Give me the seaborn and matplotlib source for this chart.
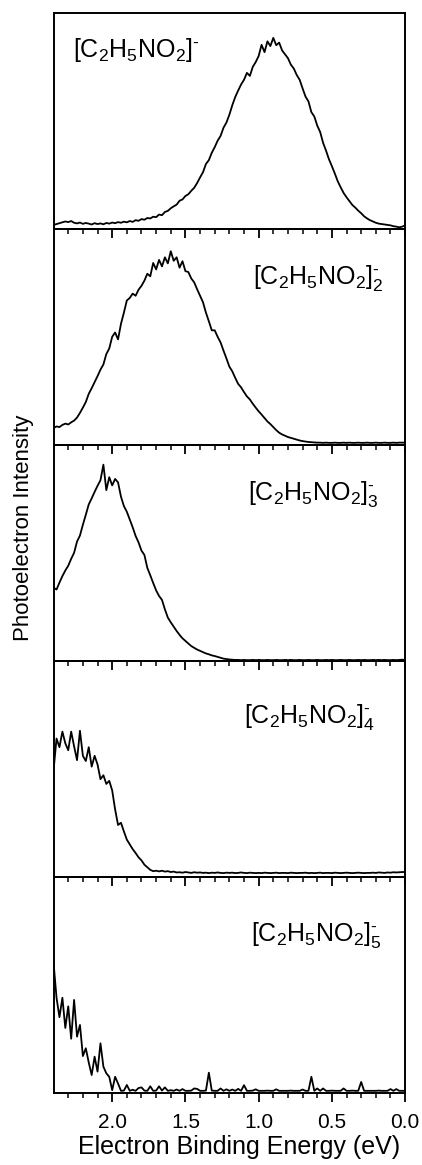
import numpy as np
import pandas as pd
import matplotlib
matplotlib.use('Agg')
import matplotlib.pyplot as plt
import seaborn as sns

# energy grid of the spectra (eV), 0.02 eV steps from 2.40 down to 0.00
energy = np.round(np.linspace(2.40, 0.00, 121), 2)

# intensities, as a fraction of each panel height
monomer = [
    0.018, 0.022, 0.026, 0.030, 0.034, 0.031, 0.036, 0.028, 0.025, 0.029,
    0.023, 0.027, 0.024, 0.020, 0.026, 0.022, 0.025, 0.021, 0.027, 0.024,
    0.029, 0.026, 0.031, 0.028, 0.033, 0.030, 0.036, 0.032, 0.040, 0.037,
    0.045, 0.042, 0.050, 0.048, 0.056, 0.054, 0.066, 0.063, 0.078, 0.083,
    0.095, 0.104, 0.112, 0.130, 0.136, 0.152, 0.160, 0.176, 0.190, 0.212,
    0.238, 0.262, 0.300, 0.318, 0.352, 0.378, 0.408, 0.430, 0.468, 0.492,
    0.528, 0.572, 0.610, 0.640, 0.668, 0.690, 0.722, 0.708, 0.750, 0.772,
    0.800, 0.852, 0.818, 0.868, 0.846, 0.884, 0.850, 0.862, 0.826, 0.808,
    0.790, 0.760, 0.742, 0.712, 0.690, 0.650, 0.612, 0.590, 0.540, 0.520,
    0.478, 0.448, 0.398, 0.362, 0.322, 0.290, 0.256, 0.220, 0.192, 0.166,
    0.146, 0.128, 0.110, 0.098, 0.084, 0.072, 0.058, 0.048, 0.040, 0.034,
    0.028, 0.024, 0.022, 0.020, 0.018, 0.016, 0.012, 0.010, 0.007, 0.010,
    0.016,
]
dimer = [
    0.078, 0.085, 0.082, 0.092, 0.098, 0.094, 0.104, 0.112, 0.126, 0.148,
    0.172, 0.198, 0.236, 0.262, 0.290, 0.318, 0.348, 0.372, 0.420, 0.446,
    0.500, 0.520, 0.488, 0.560, 0.612, 0.668, 0.680, 0.700, 0.690, 0.718,
    0.736, 0.760, 0.792, 0.780, 0.842, 0.812, 0.856, 0.826, 0.868, 0.840,
    0.896, 0.852, 0.868, 0.820, 0.850, 0.804, 0.800, 0.770, 0.752, 0.720,
    0.690, 0.660, 0.612, 0.572, 0.530, 0.530, 0.500, 0.474, 0.436, 0.400,
    0.362, 0.340, 0.310, 0.282, 0.266, 0.244, 0.224, 0.210, 0.190, 0.172,
    0.155, 0.140, 0.124, 0.108, 0.096, 0.082, 0.068, 0.056, 0.048, 0.042,
    0.036, 0.032, 0.028, 0.024, 0.020, 0.017, 0.015, 0.013, 0.012, 0.011,
    0.010, 0.010, 0.009, 0.010, 0.009, 0.009, 0.010, 0.009, 0.009, 0.010,
    0.009, 0.010, 0.009, 0.009, 0.010, 0.009, 0.009, 0.010, 0.009, 0.009,
    0.010, 0.009, 0.009, 0.010, 0.009, 0.009, 0.010, 0.009, 0.010, 0.010,
    0.010,
]
trimer = [
    0.338, 0.330, 0.362, 0.392, 0.418, 0.440, 0.472, 0.500, 0.552, 0.580,
    0.630, 0.676, 0.724, 0.752, 0.782, 0.810, 0.836, 0.908, 0.790, 0.850,
    0.812, 0.842, 0.826, 0.760, 0.716, 0.690, 0.654, 0.618, 0.578, 0.548,
    0.510, 0.490, 0.430, 0.396, 0.360, 0.326, 0.300, 0.282, 0.238, 0.200,
    0.178, 0.158, 0.138, 0.120, 0.104, 0.092, 0.080, 0.068, 0.060, 0.052,
    0.046, 0.040, 0.034, 0.030, 0.025, 0.022, 0.018, 0.014, 0.010, 0.008,
    0.006, 0.005, 0.004, 0.004, 0.003, 0.004, 0.003, 0.003, 0.004, 0.003,
    0.004, 0.003, 0.003, 0.004, 0.003, 0.003, 0.004, 0.003, 0.003, 0.004,
    0.003, 0.004, 0.003, 0.003, 0.004, 0.003, 0.003, 0.004, 0.003, 0.003,
    0.004, 0.003, 0.003, 0.004, 0.003, 0.004, 0.003, 0.003, 0.004, 0.003,
    0.003, 0.004, 0.003, 0.003, 0.004, 0.003, 0.004, 0.003, 0.003, 0.004,
    0.003, 0.004, 0.003, 0.004, 0.003, 0.003, 0.004, 0.003, 0.004, 0.005,
    0.004,
]
tetramer = [
    0.494, 0.640, 0.600, 0.672, 0.618, 0.586, 0.672, 0.604, 0.540, 0.676,
    0.560, 0.536, 0.600, 0.510, 0.560, 0.520, 0.452, 0.470, 0.430, 0.444,
    0.400, 0.312, 0.240, 0.250, 0.210, 0.172, 0.150, 0.128, 0.110, 0.090,
    0.076, 0.056, 0.044, 0.032, 0.026, 0.028, 0.025, 0.028, 0.024, 0.026,
    0.022, 0.024, 0.020, 0.021, 0.019, 0.022, 0.020, 0.018, 0.021, 0.019,
    0.020, 0.018, 0.019, 0.017, 0.019, 0.018, 0.020, 0.018, 0.017, 0.019,
    0.018, 0.019, 0.017, 0.018, 0.020, 0.018, 0.017, 0.019, 0.018, 0.017,
    0.018, 0.017, 0.019, 0.018, 0.017, 0.018, 0.019, 0.017, 0.018, 0.018,
    0.017, 0.019, 0.018, 0.017, 0.018, 0.018, 0.019, 0.017, 0.018, 0.017,
    0.018, 0.019, 0.017, 0.018, 0.018, 0.017, 0.019, 0.018, 0.017, 0.018,
    0.019, 0.018, 0.017, 0.018, 0.019, 0.018, 0.017, 0.018, 0.018, 0.019,
    0.018, 0.020, 0.019, 0.018, 0.020, 0.019, 0.021, 0.020, 0.021, 0.022,
    0.022,
]
pentamer = [
    0.600, 0.440, 0.350, 0.440, 0.300, 0.400, 0.250, 0.430, 0.260, 0.314,
    0.170, 0.206, 0.140, 0.082, 0.167, 0.098, 0.229, 0.121, 0.090, 0.074,
    0.012, 0.074, 0.043, 0.009, 0.010, 0.036, 0.009, 0.014, 0.009, 0.022,
    0.025, 0.010, 0.009, 0.030, 0.009, 0.010, 0.030, 0.010, 0.025, 0.009,
    0.012, 0.009, 0.015, 0.009, 0.017, 0.009, 0.009, 0.010, 0.020, 0.018,
    0.009, 0.009, 0.010, 0.093, 0.010, 0.009, 0.009, 0.020, 0.009, 0.016,
    0.009, 0.015, 0.009, 0.018, 0.009, 0.035, 0.009, 0.009, 0.010, 0.016,
    0.009, 0.009, 0.009, 0.010, 0.009, 0.009, 0.016, 0.009, 0.009, 0.009,
    0.009, 0.010, 0.009, 0.009, 0.009, 0.015, 0.009, 0.009, 0.074, 0.009,
    0.020, 0.009, 0.020, 0.009, 0.009, 0.010, 0.009, 0.009, 0.009, 0.020,
    0.009, 0.009, 0.010, 0.009, 0.009, 0.050, 0.009, 0.009, 0.009, 0.009,
    0.009, 0.010, 0.009, 0.009, 0.009, 0.017, 0.009, 0.017, 0.009, 0.009,
    0.009,
]

spectra = [monomer, dimer, trimer, tetramer, pentamer]
sub = r'[C$_\mathregular{2}$H$_\mathregular{5}$NO$_\mathregular{2}$]'
panel_labels = [
    sub + r'$^{\text{-}}$',
    sub + r'$_\mathregular{2}^{\text{-}}$',
    sub + r'$_\mathregular{3}^{\text{-}}$',
    sub + r'$_\mathregular{4}^{\text{-}}$',
    sub + r'$_\mathregular{5}^{\text{-}}$',
]
tick_values = [2.0, 1.5, 1.0, 0.5, 0.0]
tick_labels = ['2.0', '1.5', '1.0', '0.5', '0.0']
minor_ticks = [2.3, 2.2, 2.1, 1.9, 1.8, 1.7, 1.6, 1.4, 1.3, 1.2, 1.1,
               0.9, 0.8, 0.7, 0.6, 0.4, 0.3, 0.2, 0.1]

sns.set_style('ticks')
plt.rcParams['font.family'] = ['Liberation Sans', 'DejaVu Sans']
plt.rcParams['mathtext.fontset'] = 'custom'
plt.rcParams['mathtext.rm'] = 'Liberation Sans'
plt.rcParams['mathtext.it'] = 'Liberation Sans:italic'
plt.rcParams.update({'text.color': 'black', 'axes.labelcolor': 'black',
                     'xtick.color': 'black', 'axes.edgecolor': 'black'})

fig, axes = plt.subplots(5, 1, figsize=(4.22, 11.65), dpi=100, sharex=True)
fig.subplots_adjust(left=0.127, right=0.960, top=0.989, bottom=0.062, hspace=0)

# label positions (axes fraction) per panel
label_pos = [(0.055, 0.83, 'left'), (0.94, 0.77, 'right'), (0.925, 0.77, 'right'),
             (0.915, 0.74, 'right'), (0.935, 0.73, 'right')]

for ax, vals, lab, (lx, ly, ha) in zip(axes, spectra, panel_labels, label_pos):
    ax.patch.set_alpha(0)  # so the ticks of the panel above stay visible
    df = pd.DataFrame({'energy': energy, 'intensity': vals})
    sns.lineplot(data=df, x='energy', y='intensity', ax=ax, color='black',
                 linewidth=1.3, estimator=None, sort=False)
    ax.set_xlim(2.4, 0.0)
    ax.set_ylim(0, 1)
    ax.set_yticks([])
    ax.set_ylabel('')
    ax.set_xlabel('')
    ax.set_xticks(tick_values)
    ax.set_xticks(minor_ticks, minor=True)
    ax.tick_params(axis='x', which='major', direction='out', length=6.5, width=1.3,
                   labelsize=15, pad=8, color='black')
    ax.tick_params(axis='x', which='minor', direction='out', length=3.8, width=1.1,
                   color='black')
    for s in ax.spines.values():
        s.set_linewidth(1.4)
        s.set_color('black')
    ax.text(lx, ly, lab, transform=ax.transAxes, ha=ha, va='center', fontsize=18)

axes[-1].set_xticklabels(tick_labels)
for ax in axes[:-1]:
    ax.tick_params(axis='x', labelbottom=False)

axes[-1].set_xlabel('Electron Binding Energy (eV)', fontsize=18)
axes[-1].xaxis.set_label_coords(0.528, -0.197)
axes[-1].xaxis.label.set_va('top')

fig.text(24 / 422, 1 - 528 / 1165, 'Photoelectron Intensity', rotation=90,
         ha='center', va='center', fontsize=16)

fig.savefig('out.png', dpi=100, facecolor='white')
